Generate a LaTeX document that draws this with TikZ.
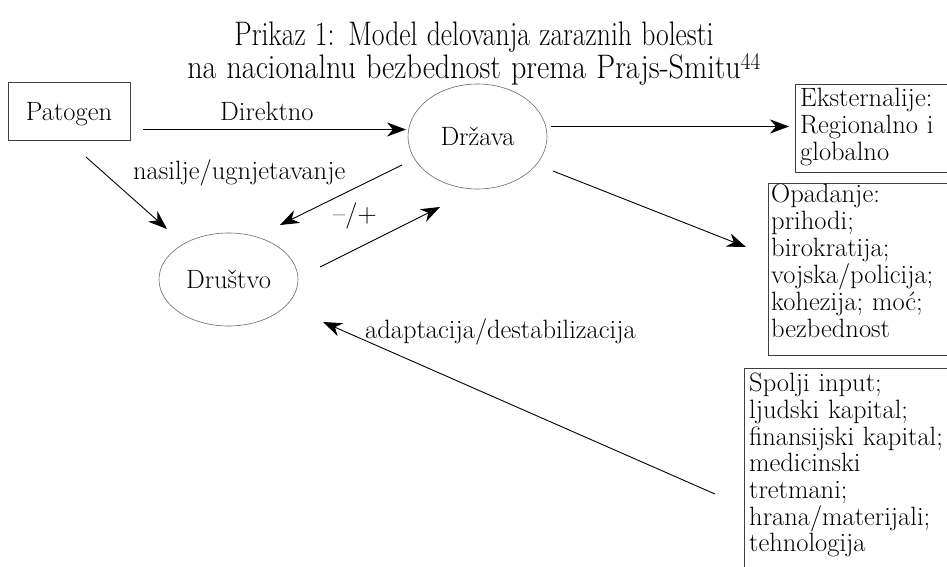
\documentclass[tikz,border=0pt]{standalone}
\usepackage{fontspec}
\usepackage{graphicx}
\usetikzlibrary{arrows.meta,shapes.geometric}
\definecolor{boxgray}{HTML}{404040}
\definecolor{ellgray}{HTML}{6A6A6A}
\tikzset{
  arr/.style={draw=black, line width=0.9pt, -{Stealth[length=19pt,width=14pt,inset=6pt]}},
  boxframe/.style={draw=boxgray, line width=1pt, rectangle, inner sep=0pt, anchor=north west},
  ell/.style={draw=ellgray, line width=0.6pt, ellipse, inner sep=0pt},
  body/.style={font=\fontsize{26.5}{27}\selectfont, inner sep=0pt},
  boxtext/.style={body, text width=230pt, align=left, anchor=base west},
  lbl/.style={body, anchor=base west},
}
\begin{document}
\begin{tikzpicture}[x=1pt,y=-1pt]
\useasboundingbox (0,0) rectangle (947,567);
\clip (0,0) rectangle (947,567);
\fill[white] (0,0) rectangle (947,567);

% title
\node[font=\fontsize{34}{31}\selectfont, align=center, text width=900pt, anchor=base, inner sep=0pt] (title) at (474,46)
  {\scalebox{0.813}[1]{Prikaz 1: Model delovanja zaraznih bolesti}\\
   \scalebox{0.885}[1]{na nacionalnu bezbednost prema Prajs-Smitu\textsuperscript{44}}};

% main nodes
\node[draw=boxgray, line width=1pt, rectangle, minimum width=122pt, minimum height=57pt, text depth=0pt, body] (pat) at (69,111.5) {Patogen};
\node[ell, minimum width=139pt, minimum height=105pt, body] (drz) at (477.5,136.5) {Država};
\node[ell, minimum width=139pt, minimum height=93pt, body] (dru) at (228.5,279.5) {Društvo};

% right boxes
\node[boxframe, minimum width=200pt, minimum height=88pt] (ext) at (795,84) {};
\node[boxframe, minimum width=220pt, minimum height=172.5pt] (opa) at (768,182.5) {};
\node[boxframe, minimum width=240pt, minimum height=240pt] (spo) at (744,368) {};

\node[boxtext] (extt) at (800,107) {Eksternalije:\\Regionalno i\\globalno};
\node[boxtext] (opat) at (771,202) {Opadanje:\\prihodi;\\birokratija;\\vojska/policija;\\kohezija; moć;\\bezbednost};
\node[boxtext, font=\fontsize{26.5}{26.7}\selectfont] (spot) at (749,391.7) {Spolji input;\\ljudski kapital;\\finansijski kapital;\\medicinski\\tretmani;\\hrana/materijali;\\tehnologija};

% labels
\node[lbl] (ldir) at (220,121) {Direktno};
\node[lbl] (lnas) at (133,179) {nasilje/ugnjetavanje};
\node[lbl] (lpm) at (333,222) {–/+};
\node[lbl] (lada) at (365,338) {adaptacija/destabilizacija};

% connector ends
\coordinate (pd1) at (143,129.5); \coordinate (pd2) at (406,129.5);
\coordinate (ps1) at (86,157);    \coordinate (ps2) at (167,229);
\coordinate (ds1) at (402,165);   \coordinate (ds2) at (280,225);
\coordinate (sd1) at (320,267);   \coordinate (sd2) at (440,207);
\coordinate (de1) at (551,126.5); \coordinate (de2) at (789,126.5);
\coordinate (do1) at (553,171);   \coordinate (do2) at (746,247);
\coordinate (sp1) at (715,494);   \coordinate (sp2) at (323,322);

\draw[arr] (pd1) -- (pd2);
\draw[arr] (ps1) -- (ps2);
\draw[arr] (ds1) -- (ds2);
\draw[arr] (sd1) -- (sd2);
\draw[arr] (de1) -- (de2);
\draw[arr] (do1) -- (do2);
\draw[arr] (sp1) -- (sp2);
\end{tikzpicture}
\end{document}
